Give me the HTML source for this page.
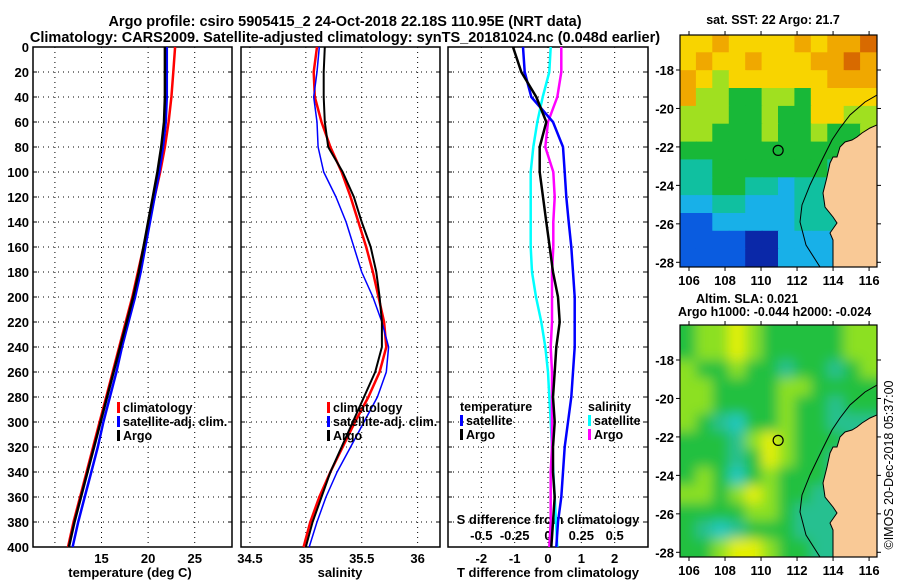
<!DOCTYPE html>
<html><head><meta charset="utf-8"><style>
html,body{margin:0;padding:0;background:#fff;}
svg{display:block;font-family:"Liberation Sans",sans-serif;font-weight:bold;}
</style></head><body>
<svg id="fig" width="900" height="580" viewBox="0 0 900 580" xmlns="http://www.w3.org/2000/svg">
<defs>
<clipPath id="cm1"><rect x="680" y="35" width="197" height="232"/></clipPath>
<clipPath id="cm2"><rect x="680" y="325" width="197" height="232"/></clipPath>
<filter id="blur" x="-10%" y="-10%" width="120%" height="120%"><feGaussianBlur stdDeviation="6"/></filter>
</defs>
<text x="345" y="26" font-size="14.5" text-anchor="middle">Argo profile: csiro 5905415_2 24-Oct-2018 22.18S 110.95E (NRT data)</text>
<text x="345" y="42" font-size="14.5" text-anchor="middle">Climatology: CARS2009. Satellite-adjusted climatology: synTS_20181024.nc (0.048d earlier)</text>
<g id="g"></g>
</svg>
<script>
// ---- data ----
const depths = [0,20,40,60,80,100,120,140,160,180,200,220,240,260,280,300,320,340,360,380,400];
const tArgo = [21.8,21.8,21.8,21.7,21.4,21.0,20.5,20.0,19.5,19.0,18.4,17.7,17.0,16.3,15.6,14.9,14.2,13.5,12.8,12.1,11.5];
const tClim = [22.9,22.7,22.5,22.2,21.8,21.3,20.7,20.1,19.5,18.9,18.3,17.6,16.9,16.2,15.5,14.8,14.1,13.4,12.7,12.0,11.4];
const tSat  = [22.0,22.0,22.0,21.9,21.6,21.2,20.7,20.2,19.7,19.2,18.6,17.9,17.2,16.6,15.9,15.2,14.6,13.9,13.2,12.5,11.9];
const sArgo = [35.17,35.16,35.16,35.17,35.2,35.33,35.43,35.50,35.58,35.63,35.66,35.68,35.68,35.62,35.52,35.42,35.32,35.22,35.14,35.06,35.0];
const sClim = [35.10,35.07,35.08,35.14,35.22,35.32,35.40,35.47,35.54,35.60,35.65,35.70,35.72,35.66,35.56,35.44,35.33,35.22,35.12,35.04,34.98];
const sSat  = [35.12,35.10,35.07,35.10,35.11,35.16,35.27,35.36,35.43,35.50,35.60,35.68,35.74,35.72,35.64,35.52,35.40,35.28,35.18,35.10,35.03];
const dTArgo = [-1.05,-0.8,-0.35,-0.05,-0.25,-0.25,-0.15,-0.05,0.05,0.15,0.3,0.35,0.25,0.2,0.15,0.2,0.15,0.15,0.2,0.15,0.1];
const dTSat  = [-0.75,-0.7,-0.5,0.15,0.45,0.5,0.55,0.62,0.7,0.75,0.8,0.8,0.8,0.75,0.7,0.6,0.5,0.45,0.4,0.3,0.25];
const dSSat  = [0.02,0.01,-0.04,-0.08,-0.11,-0.13,-0.13,-0.13,-0.13,-0.12,-0.09,-0.05,-0.02,0.0,0.01,0.02,0.03,0.04,0.05,0.06,0.07];
const dSArgo = [0.1,0.1,0.07,0.0,-0.02,0.04,0.05,0.04,0.04,0.03,0.03,0.03,0.02,0.03,0.03,0.03,0.03,0.02,0.02,0.02,0.01];
const depthTicks = [0,20,40,60,80,100,120,140,160,180,200,220,240,260,280,300,320,340,360,380,400];
const tTicks = [10,15,20,25];
const tTickLabels = ["","15","20","25"];
const sTicks = [34.5,35,35.5,36];
const sTickLabels = ["34.5","35","35.5","36"];
const dTTicks = [-2,-1,0,1,2];
const dSTicks = [-0.5,-0.25,0,0.25,0.5];
const latTicks = [-18,-20,-22,-24,-26,-28];
const lonTicks = [106,108,110,112,114,116];
// SST map grid (1 dark blue .. 9 dark orange)
const sstGrid = [
[7,7,8,7,7,7,7,8,7,8,8,9],
[7,8,7,7,8,7,7,7,8,8,9,8],
[8,7,6,7,7,7,7,7,7,8,8,8],
[8,6,6,5,5,6,6,5,7,7,7,7],
[6,6,6,5,5,6,5,5,7,7,6,6],
[6,6,5,5,5,6,5,5,6,5,5,6],
[5,5,5,5,5,5,5,5,5,5,5,5],
[4,4,5,5,5,5,5,5,5,4,4,4],
[4,4,5,5,4,4,3,4,4,4,4,4],
[3,3,4,4,3,3,3,4,4,4,4,4],
[2,2,3,3,3,3,3,4,4,4,4,4],
[2,2,2,2,1,1,3,3,3,3,3,3],
[2,2,2,2,1,1,3,3,3,3,3,3]];
// SLA map grid (0 cyan .. 4 yellow)
const slaGrid = [
[2,3,3,4,3,2,2,2,2,2,3,3],
[2,3,3,4,3,2,2,2,2,2,3,3],
[3,2,2,3,2,2,1,2,2,1,2,3],
[3,3,2,2,2,2,3,3,2,2,2,2],
[3,3,2,2,2,2,3,2,2,1,2,2],
[3,2,1,0,2,2,3,2,2,1,1,1],
[2,2,2,1,3,4,3,2,2,2,1,1],
[2,2,2,1,2,4,3,2,2,1,1,1],
[2,3,2,0,2,3,2,2,2,1,1,1],
[3,3,2,3,4,3,2,2,1,1,1,1],
[2,2,2,2,3,3,2,1,1,1,1,1],
[2,1,0,1,2,2,2,1,1,1,1,1],
[2,2,3,4,4,3,2,2,1,1,1,1]];

const NS="http://www.w3.org/2000/svg";
const G=document.getElementById('g');
function mk(tag,attrs,parent){const e=document.createElementNS(NS,tag);for(const k in attrs)e.setAttribute(k,attrs[k]);(parent||G).appendChild(e);return e;}
function txt(s,x,y,size,anchor,parent){const t=mk('text',{x:x,y:y,'font-size':size,'text-anchor':anchor||'middle'},parent);t.textContent=s;return t;}

const top0=47,bot0=547;
const yD=d=>top0+(d/400)*(bot0-top0);
const panels=[
 {x0:33,x1:232,min:7.65,max:29,name:'temperature'},
 {x0:241,x1:440,min:34.42,max:36.2,name:'salinity'},
 {x0:448,x1:648,min:-3,max:3,name:'t-difference'}];
const xT=v=>panels[0].x0+(v-panels[0].min)/(panels[0].max-panels[0].min)*(panels[0].x1-panels[0].x0);
const xS=v=>panels[1].x0+(v-panels[1].min)/(panels[1].max-panels[1].min)*(panels[1].x1-panels[1].x0);
const xdT=v=>panels[2].x0+(v-panels[2].min)/(panels[2].max-panels[2].min)*(panels[2].x1-panels[2].x0);
const xdS=v=>xdT(v*4);

panels.forEach((p,i)=>{
  const g=mk('g',{});
  
  
  depthTicks.forEach(d=>{ if(d>0&&d<400){const l=mk('line',{x1:p.x0,x2:p.x1,y1:yD(d),y2:yD(d),stroke:'#000','stroke-width':1,'stroke-dasharray':'1 4'},g);
    }
    mk('line',{x1:p.x0,x2:p.x0+4,y1:yD(d),y2:yD(d),stroke:'#000'},g);mk('line',{x1:p.x1-4,x2:p.x1,y1:yD(d),y2:yD(d),stroke:'#000'},g);});
  const ticks=i==0?tTicks:i==1?sTicks:dTTicks;
  const fx=i==0?xT:i==1?xS:xdT;
  ticks.forEach(v=>{const l=mk('line',{x1:fx(v),x2:fx(v),y1:top0,y2:bot0,stroke:'#000','stroke-dasharray':'1 4'},g);
    });
  const r=mk('rect',{x:p.x0,y:top0,width:p.x1-p.x0,height:bot0-top0,fill:'none',stroke:'#000','stroke-width':1.5},g);
  
});
depthTicks.forEach(d=>{const t=txt(String(d),29,yD(d)+5,13,'end');
  });
tTicks.forEach((v,i)=>{const t=txt(tTickLabels[i],xT(v),563,13);});
sTicks.forEach((v,i)=>{const t=txt(sTickLabels[i],xS(v),563,13);});
dTTicks.forEach(v=>{const t=txt(String(v),xdT(v),563,13);});
dSTicks.forEach(v=>{const t=txt(String(v),xdS(v),540,13);});
let a;
a=txt('temperature (deg C)',130,577,13);
a=txt('salinity',340,577,13);
a=txt('T difference from climatology',548,577,13);
a=txt('S difference from climatology',548,524,13);

function line(vals,fx,color,w,name){
  const pts=vals.map((v,i)=>fx(v).toFixed(1)+','+yD(depths[i]).toFixed(1)).join(' ');
  const p=mk('polyline',{points:pts,fill:'none',stroke:color,'stroke-width':w,'stroke-linejoin':'round'});
  
  
}
line(tClim,xT,'#ff0000',2.5,'temperature-climatology-line');
line(tSat,xT,'#0000ff',2.5,'temperature-satellite-line');
line(tArgo,xT,'#000000',2.5,'temperature-argo-line');
line(sClim,xS,'#ff0000',2.5,'salinity-climatology-line');
line(sSat,xS,'#0000ff',1.5,'salinity-satellite-line');
line(sArgo,xS,'#000000',2,'salinity-argo-line');
line(dSSat,xdS,'#00ffff',2.5,'s-diff-satellite-line');
line(dSArgo,xdS,'#ff00ff',2.5,'s-diff-argo-line');
line(dTSat,xdT,'#0000ff',2.5,'t-diff-satellite-line');
line(dTArgo,xdT,'#000000',2.5,'t-diff-argo-line');

function legend(x,y,items,name){
  const g=mk('g',{});
  
  
  items.forEach((it,i)=>{
    const yy=y+i*14;
    if(it[1]) mk('rect',{x:x,y:yy-10,width:3,height:11,fill:it[1]},g);
    const t=txt(it[0],it[1]?x+6:x,yy,12.5,'start',g);
    
    
  });
}
legend(117,412,[['climatology','#ff0000'],['satellite-adj. clim.','#0000ff'],['Argo','#000']],'temperature-legend');
legend(327,412,[['climatology','#ff0000'],['satellite-adj. clim.','#0000ff'],['Argo','#000']],'salinity-legend');
legend(460,411,[['temperature',null],['satellite','#0000ff'],['Argo','#000']],'t-diff-legend');
legend(588,411,[['salinity',null],['satellite','#00ffff'],['Argo','#ff00ff']],'s-diff-legend');

// ---- maps ----
const mx0=680,mx1=877,lonMin=105.5,lonMax=116.44;
const xLon=v=>mx0+(v-lonMin)/(lonMax-lonMin)*(mx1-mx0);
const sstCol=['#f9c996','#0a28a8','#0a5ce0','#18b0e8','#10c0a0','#18b838','#a0e020','#f8d400','#f0a800','#d86a00'];
const slaCol=['#20c8c0','#28c090','#22c040','#8ce020','#e4f000'];
function map(top,grid,cols,blur,name,titleLines,clip){
  const latMin=-16.18, pxPerLat=19.23;
  const yLat=v=>top+(latMin-v)*pxPerLat;
  const g=mk('g',{'clip-path':'url(#'+clip+')'});
  
  
  const inner=mk('g',blur?{filter:'url(#blur)'}:{},g);
  const nr=grid.length,nc=grid[0].length;
  const cw=(mx1-mx0)/nc,ch=232/nr;
  grid.forEach((row,r)=>row.forEach((v,c)=>{
    let x=mx0+c*cw-0.5,y=top+r*ch-0.5,w=cw+1,h=ch+1;
    if(blur){ if(c==0){x-=15;w+=15;} if(c==nc-1){w+=15;} if(r==0){y-=15;h+=15;} if(r==nr-1){h+=15;} }
    const cell=mk('rect',{x:x.toFixed(1),y:y.toFixed(1),width:w.toFixed(1),height:h.toFixed(1),fill:cols[v]},inner);
    
    
  }));
  const off=top-35;
  const land=[[877,125],[870,128],[862,133],[857,137],[852,140],[845,142],[840,147],[837,157],[833,157],[830,163],[827,177],[823,193],[825,207],[833,217],[837,223],[830,233],[833,240],[833,267],[877,267]];
  const lp=mk('polygon',{points:land.map(p=>p[0]+','+(p[1]+off)).join(' '),fill:'#f9c996',stroke:'#000','stroke-width':1},g);
  
  const iso=[[877,95],[865,102],[850,115],[840,128],[832,140],[822,160],[810,185],[802,205],[800,222],[806,245],[820,267]];
  const ip=mk('polyline',{points:iso.map(p=>p[0]+','+(p[1]+off)).join(' '),fill:'none',stroke:'#000','stroke-width':1},g);
  
  const c=mk('circle',{cx:xLon(110.95),cy:yLat(-22.18),r:5,fill:'none',stroke:'#000','stroke-width':1.2});
  
  const fr=mk('rect',{x:mx0,y:top,width:mx1-mx0,height:232,fill:'none',stroke:'#000','stroke-width':1.2});
  
  latTicks.forEach(v=>{mk('line',{x1:mx0-4,x2:mx0,y1:yLat(v),y2:yLat(v),stroke:'#000'});mk('line',{x1:mx1,x2:mx1+4,y1:yLat(v),y2:yLat(v),stroke:'#000'});
    const t=txt(String(v),674,yLat(v)+5,13,'end');});
  lonTicks.forEach(v=>{mk('line',{x1:xLon(v),x2:xLon(v),y1:top-4,y2:top,stroke:'#000'});mk('line',{x1:xLon(v),x2:xLon(v),y1:top+232,y2:top+236,stroke:'#000'});
    const t=txt(String(v),xLon(v),top+250,13);});
  titleLines.forEach(tl=>{const t=txt(tl[0],tl[1],tl[2],12.5,tl[3]||'middle');});
}
map(35,sstGrid,sstCol,false,'sst-map',[['sat. SST: 22 Argo: 21.7',773,24]],'cm1');
map(325,slaGrid,slaCol,true,'sla-map',[['Altim. SLA: 0.021',696,303,'start'],['Argo h1000: -0.044 h2000: -0.024',678,316,'start']],'cm2');
const cr=txt('©IMOS 20-Dec-2018 05:37:00',0,0,12.5,'middle');
cr.setAttribute('transform','translate(893,465) rotate(-90)');
cr.setAttribute('font-weight','normal');


</script>
</body></html>
